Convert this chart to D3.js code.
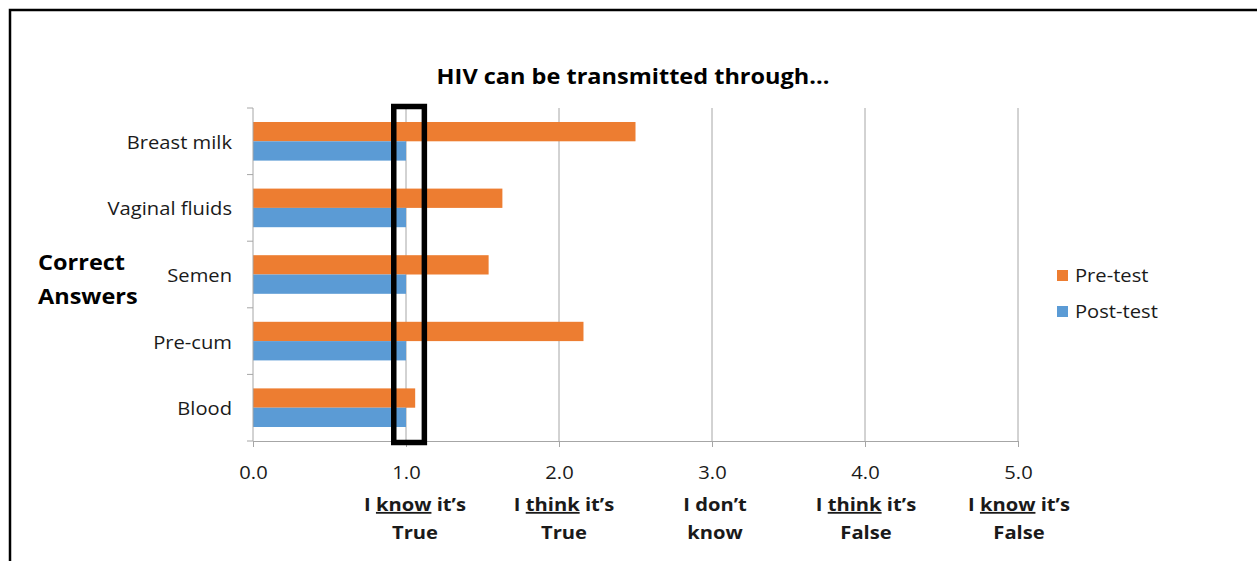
<!DOCTYPE html>
<html><head><meta charset="utf-8">
<script src="https://cdn.jsdelivr.net/npm/d3@7"></script>
<style>body{margin:0;background:#fff}svg{display:block;font-family:"Open Sans",sans-serif}</style>
</head><body><svg id="c" width="1257" height="561"></svg>
<script>
const categories = ["Breast milk","Vaginal fluids","Semen","Pre-cum","Blood"];
const seriesNames = ["Pre-test","Post-test"];
const preTest = [2.50, 1.63, 1.54, 2.16, 1.06];
const postTest = [1.0, 1.0, 1.0, 1.0, 1.0];
const colors = ["#ED7D31","#5B9BD5"];
const xTicks = [0,1,2,3,4,5];
const xTickLabels = [[], [["I "],["know",1],[" it\u2019s"]], [["I "],["think",1],[" it\u2019s"]], [["I don\u2019t"]], [["I "],["think",1],[" it\u2019s"]], [["I "],["know",1],[" it\u2019s"]]];
const xTickLabels2 = ["", "True", "True", "know", "False", "False"];
const highlight = [0.92, 1.12];

// layout tweaks (pixel nudges of the hand-placed answer labels)
const labelNudge = [0, 9, 5, 3, 1, 1];
const SX = 1.12;
function stretch(sel){
  sel.each(function(){
    const el = d3.select(this);
    const ax = +el.attr("x") || 0;
    el.attr("transform",`translate(${ax},0) scale(${SX},1) translate(${-ax},0)`);
  });
}

const svg = d3.select("#c");
svg.append("path").attr("d","M10,561 V10 H1257").attr("fill","none").attr("stroke","#000").attr("stroke-width",2.5);

const x = d3.scaleLinear().domain([0,5]).range([253,1018]);
const y = d3.scaleBand().domain(categories).range([108,441]);
const sub = d3.scaleBand().domain(seriesNames).range([0,y.bandwidth()]).paddingOuter(0.725);

svg.append("g").selectAll("line").data(xTicks.slice(1)).join("line")
  .attr("x1",d=>x(d)).attr("x2",d=>x(d)).attr("y1",108).attr("y2",441)
  .attr("stroke","#a6a6a6").attr("stroke-width",1);

const data = categories.map((c,i)=>({c, vals:[preTest[i], postTest[i]]}));
const g = svg.append("g");
data.forEach(d=>{
  seriesNames.forEach((s,j)=>{
    g.append("rect").attr("x",x(0)).attr("y",y(d.c)+sub(s))
      .attr("width",x(d.vals[j])-x(0)).attr("height",sub.bandwidth()).attr("fill",colors[j]);
  });
});

const yAxis = svg.append("g").attr("transform","translate(253,0)");
yAxis.append("line").attr("y1",108).attr("y2",441).attr("stroke","#a6a6a6");
yAxis.selectAll(".t").data(d3.range(categories.length+1)).join("line")
  .attr("x1",-6).attr("x2",0).attr("y1",i=>108+i*y.step()).attr("y2",i=>108+i*y.step()).attr("stroke","#a6a6a6");
svg.append("g").selectAll("text").data(categories).join("text")
  .attr("x",232).attr("y",d=>y(d)+y.bandwidth()/2+1).attr("text-anchor","end").attr("dominant-baseline","central")
  .attr("font-size",18).attr("fill","#1a1a1a").text(d=>d).call(stretch);

const xAxis = svg.append("g").attr("transform","translate(0,441)");
xAxis.call(d3.axisBottom(x).tickValues(xTicks).tickSize(6).tickFormat(d3.format(".1f")));
xAxis.select(".domain").attr("stroke","#a6a6a6");
xAxis.selectAll(".tick line").attr("stroke","#a6a6a6");
xAxis.selectAll(".tick text").attr("font-size",18).attr("fill","#1a1a1a").attr("dy",0).attr("y",38)
  .attr("font-family","'Open Sans',sans-serif").attr("transform",`scale(${SX},1)`);

const lab = svg.append("g");
xTicks.forEach((t,i)=>{
  if(!xTickLabels[i].length) return;
  const cx = x(t) + labelNudge[i];
  const tx = lab.append("text").attr("x",cx).attr("y",511).attr("text-anchor","middle")
    .attr("font-size",18).attr("font-weight","bold").attr("fill","#1a1a1a");
  xTickLabels[i].forEach(p=>{
    tx.append("tspan").text(p[0]).attr("text-decoration",p[1]?"underline":null);
  });
  tx.call(stretch);
  lab.append("text").attr("x",cx).attr("y",539).attr("text-anchor","middle")
    .attr("font-size",18).attr("font-weight","bold").attr("fill","#1a1a1a").text(xTickLabels2[i]).call(stretch);
});

svg.append("rect").attr("x",x(highlight[0])).attr("y",106.5).attr("width",x(highlight[1])-x(highlight[0]))
  .attr("height",336).attr("fill","none").attr("stroke","#000").attr("stroke-width",5.5);

svg.append("text").attr("x",633).attr("y",84).attr("text-anchor","middle").attr("font-size",21)
  .attr("font-weight","bold").attr("fill","#000").text("HIV can be transmitted through...").call(stretch);

svg.append("text").attr("x",38).attr("y",270).attr("font-size",21).attr("font-weight","bold").attr("fill","#000").text("Correct").call(stretch);
svg.append("text").attr("x",38).attr("y",304).attr("font-size",21).attr("font-weight","bold").attr("fill","#000").text("Answers").call(stretch);

const leg = svg.append("g");
seriesNames.forEach((s,i)=>{
  leg.append("rect").attr("x",1057).attr("y",270+i*36).attr("width",11).attr("height",11).attr("fill",colors[i]);
  leg.append("text").attr("x",1075).attr("y",275+i*36).attr("dominant-baseline","central")
    .attr("font-size",18).attr("fill","#1a1a1a").text(s).call(stretch);
});
</script></body></html>
